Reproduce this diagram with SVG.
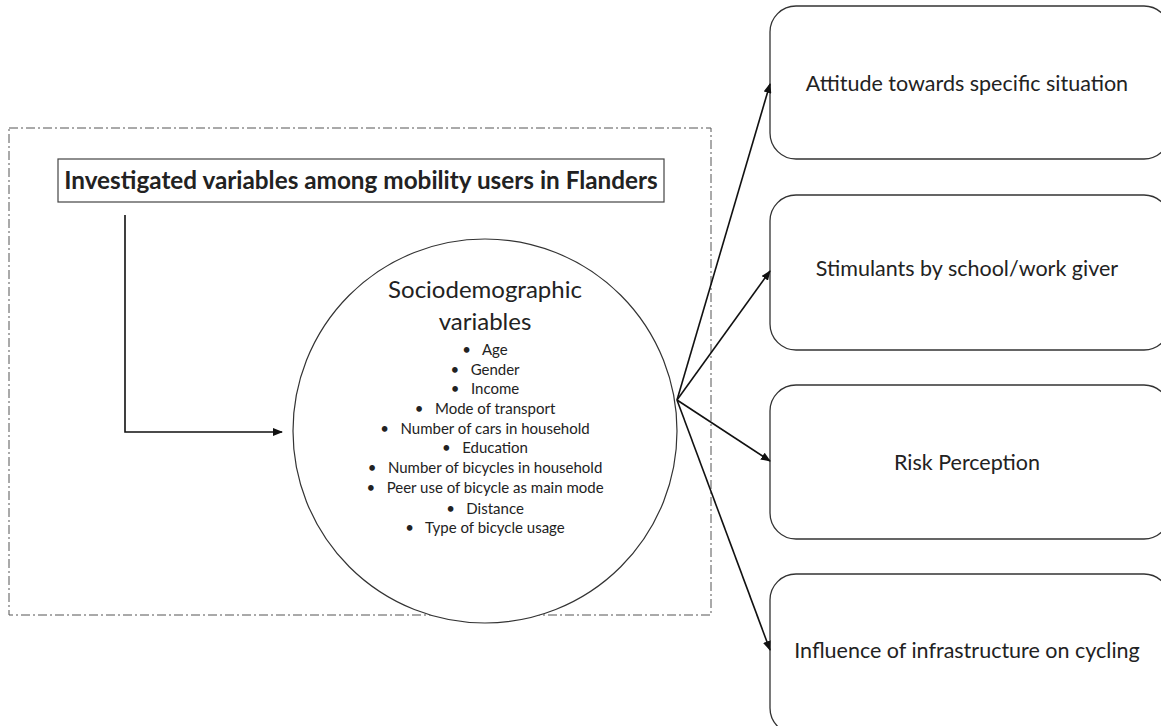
<svg xmlns="http://www.w3.org/2000/svg" width="1161" height="726" viewBox="0 0 1161 726">
<style>
.t{font-family:Lato,"Open Sans","Liberation Sans",sans-serif;fill:#222;text-anchor:middle}
.box{fill:#fff;stroke:#333;stroke-width:1.3}
.con{fill:none;stroke:#111;stroke-width:1.6}
.b{font-size:15px;white-space:pre}
.r{font-size:21.5px}
</style>
<defs>
<marker id="ah" markerWidth="10" markerHeight="8" refX="9" refY="4" orient="auto" markerUnits="userSpaceOnUse">
<path d="M0,0 L10,4 L0,8 z" fill="#111"/>
</marker>
</defs>
<rect width="1161" height="726" fill="#fff"/>
<g id="container">
<rect x="9" y="128" width="702" height="487" fill="none" stroke="#555" stroke-width="1" stroke-dasharray="9 3 2 3"/>
</g>
<g id="title">
<rect x="58" y="159" width="606" height="43" fill="#fff" stroke="#444" stroke-width="1.2"/>
<text class="t" x="361" y="189" font-size="24.3" font-weight="bold" fill="#111">Investigated variables among mobility users in Flanders</text>
</g>
<g id="socio">
<circle cx="485" cy="431" r="192" fill="#fff" stroke="#333" stroke-width="1.2"/>
<text class="t" x="485" y="298" font-size="24">Sociodemographic</text>
<text class="t" x="485" y="330" font-size="24">variables</text>
<text class="t b" x="485" y="355" xml:space="preserve">•   Age</text>
<text class="t b" x="485" y="375" xml:space="preserve">•   Gender</text>
<text class="t b" x="485" y="394" xml:space="preserve">•   Income</text>
<text class="t b" x="485" y="414" xml:space="preserve">•   Mode of transport</text>
<text class="t b" x="485" y="434" xml:space="preserve">•   Number of cars in household</text>
<text class="t b" x="485" y="453" xml:space="preserve">•   Education</text>
<text class="t b" x="485" y="473" xml:space="preserve">•   Number of bicycles in household</text>
<text class="t b" x="485" y="493" xml:space="preserve">•   Peer use of bicycle as main mode</text>
<text class="t b" x="485" y="514" xml:space="preserve">•   Distance</text>
<text class="t b" x="485" y="533" xml:space="preserve">•   Type of bicycle usage</text>
</g>
<g id="attitude">
<rect class="box" x="770" y="6" width="400" height="153" rx="26"/>
<text class="t r" x="967" y="91">Attitude towards specific situation</text>
</g>
<g id="stimulants">
<rect class="box" x="770" y="195" width="400" height="155" rx="26"/>
<text class="t r" x="967" y="276">Stimulants by school/work giver</text>
</g>
<g id="risk">
<rect class="box" x="770" y="385" width="400" height="154" rx="26"/>
<text class="t r" x="967" y="470">Risk Perception</text>
</g>
<g id="infra">
<rect class="box" x="770" y="574" width="400" height="160" rx="26"/>
<text class="t r" x="967" y="658">Influence of infrastructure on cycling</text>
</g>
<g id="connectors">
<polyline class="con" points="125,215 125,432 282,432" stroke-width="1.2" marker-end="url(#ah)"/>
<line class="con" x1="677" y1="400" x2="770" y2="84" marker-end="url(#ah)"/>
<line class="con" x1="677" y1="400" x2="770" y2="271" marker-end="url(#ah)"/>
<line class="con" x1="677" y1="400" x2="770" y2="461" marker-end="url(#ah)"/>
<line class="con" x1="677" y1="400" x2="770" y2="650" marker-end="url(#ah)"/>
</g>
</svg>
